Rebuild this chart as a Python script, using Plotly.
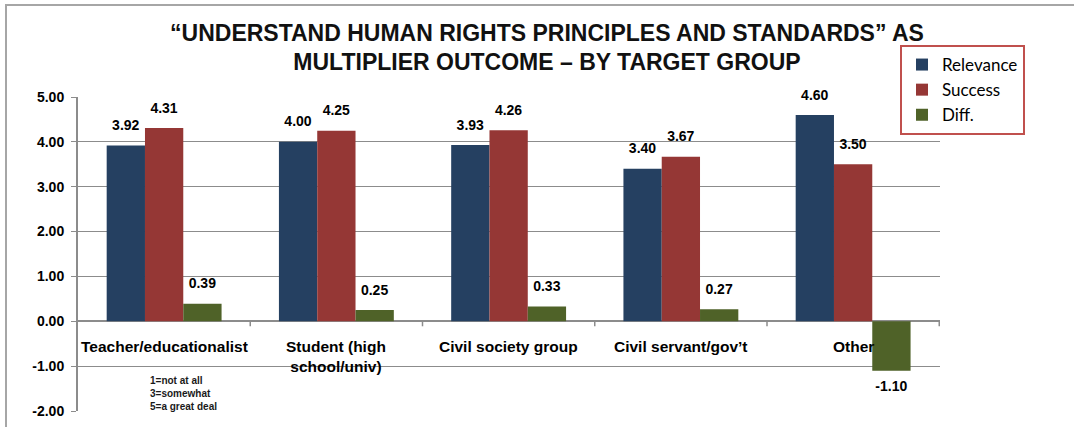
import plotly.graph_objects as go

categories = ["Teacher/educationalist", "Student (high<br>school/univ)", "Civil society group",
              "Civil servant/gov’t", "Other"]
relevance = [3.92, 4.00, 3.93, 3.40, 4.60]
success = [4.31, 4.25, 4.26, 3.67, 3.50]
diff = [0.39, 0.25, 0.33, 0.27, -1.10]
y_ticks = [-2, -1, 0, 1, 2, 3, 4, 5]
y_tick_labels = ["-2.00", "-1.00", "0.00", "1.00", "2.00", "3.00", "4.00", "5.00"]

series = [("Relevance", relevance, "#254061"),
          ("Success", success, "#953735"),
          ("Diff.", diff, "#4F6228")]

GRID = "#8C8C8C"


def label(v):
    big = "<span style='font-size:14px'>%.2f</span>" % v
    return big + "<br> " if v >= 0 else " <br>" + big


fig = go.Figure()
for name, vals, col in series:
    fig.add_trace(go.Bar(
        x=categories, y=vals, name=name, marker=dict(color=col, line=dict(width=0)),
        text=[label(v) for v in vals], textposition="outside", constraintext="none",
        textfont=dict(family="Liberation Sans", size=8, color="black", weight="bold"),
        cliponaxis=False,
    ))

W, H = 1074, 427
fig.update_layout(
    width=W, height=H,
    margin=dict(l=78, r=134, t=97, b=16, autoexpand=False),
    paper_bgcolor="white", plot_bgcolor="white",
    barmode="group", bargap=0.333, bargroupgap=0,
    font=dict(family="Liberation Sans", color="black"),
    title=dict(
        text="<b>“UNDERSTAND HUMAN RIGHTS PRINCIPLES AND STANDARDS” AS<br>MULTIPLIER OUTCOME – BY TARGET GROUP</b>",
        x=547 / W, xref="container", xanchor="center",
        y=1 - 40.5 / H, yref="container", yanchor="middle",
        font=dict(family="Liberation Sans", size=23, color="#111111"),
    ),
    legend=dict(
        x=0.9536, y=(411 - 45) / 314, xanchor="left", yanchor="top",
        bgcolor="white", bordercolor="#C0504D", borderwidth=2,
        font=dict(family="Lato", size=17, color="black"),
    ),
    showlegend=True,
)

fig.update_yaxes(
    range=[-2, 5], tickmode="array", tickvals=y_ticks, ticktext=y_tick_labels,
    showgrid=True, gridcolor=GRID, gridwidth=1,
    zeroline=True, zerolinecolor=GRID, zerolinewidth=2,
    showline=True, linecolor=GRID, linewidth=2,
    ticks="outside", ticklen=5, tickcolor=GRID, ticklabelstandoff=4,
    tickfont=dict(family="Liberation Sans", size=14, weight="bold", color="black"),
)
fig.update_xaxes(
    type="category", showline=False, ticks="", showticklabels=False, showgrid=False,
)

# category labels just below the zero line
for c in categories:
    fig.add_annotation(
        text="<b>%s</b>" % c, x=c, y=0, xref="x", yref="y",
        xanchor="center", yanchor="top", yshift=-15, showarrow=False, align="center",
        font=dict(family="Liberation Sans", size=15.5, color="black"),
    )

# tick marks at category boundaries on the zero line
for i in range(len(categories)):
    fig.add_shape(
        type="line", xref="x", yref="y", x0=i + 0.5, x1=i + 0.5,
        ysizemode="pixel", yanchor=0, y0=0, y1=-5,
        line=dict(color=GRID, width=1.5),
    )

fig.add_annotation(
    text="<b>1=not at all<br>3=somewhat<br>5=a great deal</b>",
    xref="paper", yref="paper", x=(148 - 78) / 862, y=(411 - 393) / 314,
    xanchor="left", yanchor="middle", align="left", showarrow=False,
    font=dict(family="Liberation Sans", size=10, color="#1a1a1a"),
)

fig.add_shape(
    type="rect", xref="paper", yref="paper",
    x0=(6 - 78) / 862, x1=(1085 - 78) / 862, y0=(411 - 440) / 314, y1=(411 - 5) / 314,
    line=dict(color="#A6A6A6", width=2), fillcolor="rgba(0,0,0,0)", layer="above",
)

fig.write_html("out.html", config={"displayModeBar": False},
               post_script="document.body.style.margin='0';")
